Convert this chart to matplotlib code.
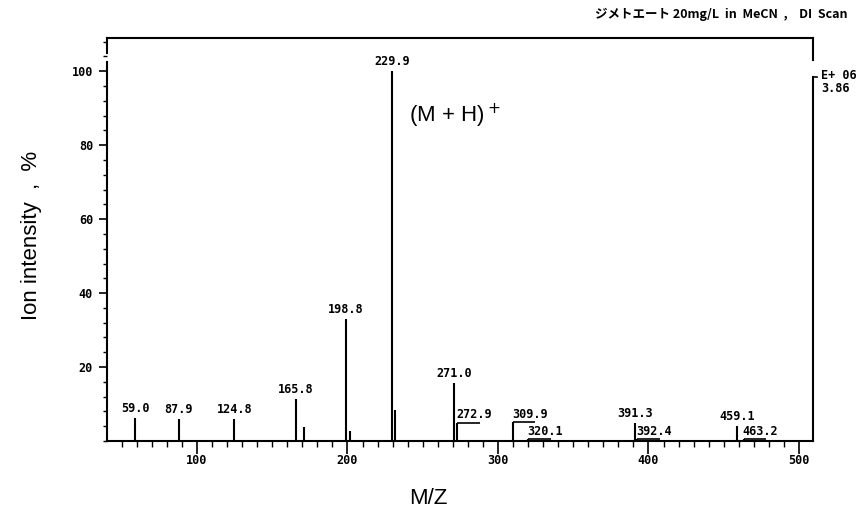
import matplotlib
matplotlib.use("Agg")
import matplotlib.pyplot as plt
from matplotlib.ticker import MultipleLocator
from matplotlib.transforms import blended_transform_factory
from matplotlib.font_manager import FontProperties

# peaks
mz = [59.0, 87.9, 124.8, 165.8, 171.0, 198.8, 201.5, 229.9, 231.8,
      271.0, 272.9, 309.9, 320.1, 391.3, 392.4, 459.1, 463.2]
intensity = [6.2, 6.0, 6.0, 11.4, 3.8, 33.0, 2.7, 100.0, 8.5,
             15.7, 5.0, 5.2, 0.6, 5.0, 0.6, 4.0, 0.6]

# labels written centred above the peak
top_labels = [59.0, 87.9, 124.8, 165.8, 198.8, 229.9, 271.0, 391.3, 459.1]
# labels written beside the peak with an underline bracket
side_labels = [272.9, 309.9, 320.1, 392.4, 463.2]

title = "ジメトエート 20mg/L  in  MeCN  ,    DI  Scan"
mono = {"family": "DejaVu Sans Mono", "weight": "bold", "size": 8.5}

fig = plt.figure(figsize=(8.67, 5.20), dpi=100)
ax = fig.add_axes([0.1234, 0.1519, 0.8143, 0.7750])

for x, y in zip(mz, intensity):
    ax.vlines(x, 0, y, color="black", lw=1.5)

for x, y in zip(mz, intensity):
    if x in top_labels:
        ax.text(x, y + 0.8, f"{x:.1f}", ha="center", va="bottom", fontdict=mono)
    elif x in side_labels:
        ax.hlines(y, x, x + 15, color="black", lw=1.2)
        ax.text(x - 0.5, y + 0.3, f"{x:.1f}", ha="left", va="bottom", fontdict=mono)

ax.text(241, 88, "(M + H)$^+$", fontsize=16, family="Liberation Sans", va="center")

ax.set_xlim(40.2, 509.3)
ax.set_ylim(0, 109)
ax.set_xticks([100, 200, 300, 400, 500])
ax.set_yticks([20, 40, 60, 80, 100])
ax.xaxis.set_minor_locator(MultipleLocator(10))
ax.yaxis.set_minor_locator(MultipleLocator(4))
ax.tick_params(axis="x", which="major", direction="out", length=9, width=1.2, pad=0)
ax.tick_params(axis="x", which="minor", direction="out", length=4, width=1.0)
ax.tick_params(axis="y", which="major", direction="out", length=6, width=1.2, pad=4)
ax.tick_params(axis="y", which="minor", direction="out", length=3, width=1.0)
for lab in ax.get_xticklabels() + ax.get_yticklabels():
    lab.set_fontproperties(FontProperties(**mono))

for sp in ax.spines.values():
    sp.set_linewidth(1.5)

# broken frame at the top corners, like the original printout
ax.spines["left"].set_bounds(0, 102.4)
ax.spines["right"].set_bounds(0, 98.4)
tr = blended_transform_factory(ax.transAxes, ax.transData)
ax.plot([0, 0], [105, 109], transform=tr, color="black", lw=1.5, clip_on=False)
ax.plot([1, 1], [103, 109], transform=tr, color="black", lw=1.5, clip_on=False)
ax.plot([1, 1.006], [98.4, 98.4], transform=tr, color="black", lw=1.2, clip_on=False)

ax.set_xlabel("M/Z", fontsize=16, family="Liberation Sans")
ax.xaxis.set_label_coords(0.4547, -0.117)
ax.set_ylabel("Ion intensity  ,  %", fontsize=16, family="Liberation Sans")
ax.yaxis.set_label_coords(-0.092, 0.51)

ax.text(1.012, 97, "E+ 06\n3.86", transform=tr, ha="left", va="center",
        fontdict=mono, linespacing=1.0)

fig.text(0.978, 0.972, title, ha="right", va="center", fontsize=9,
         weight="bold", family=["Noto Sans CJK JP", "DejaVu Sans"])

plt.savefig("out.png", dpi=100)
plt.close()
